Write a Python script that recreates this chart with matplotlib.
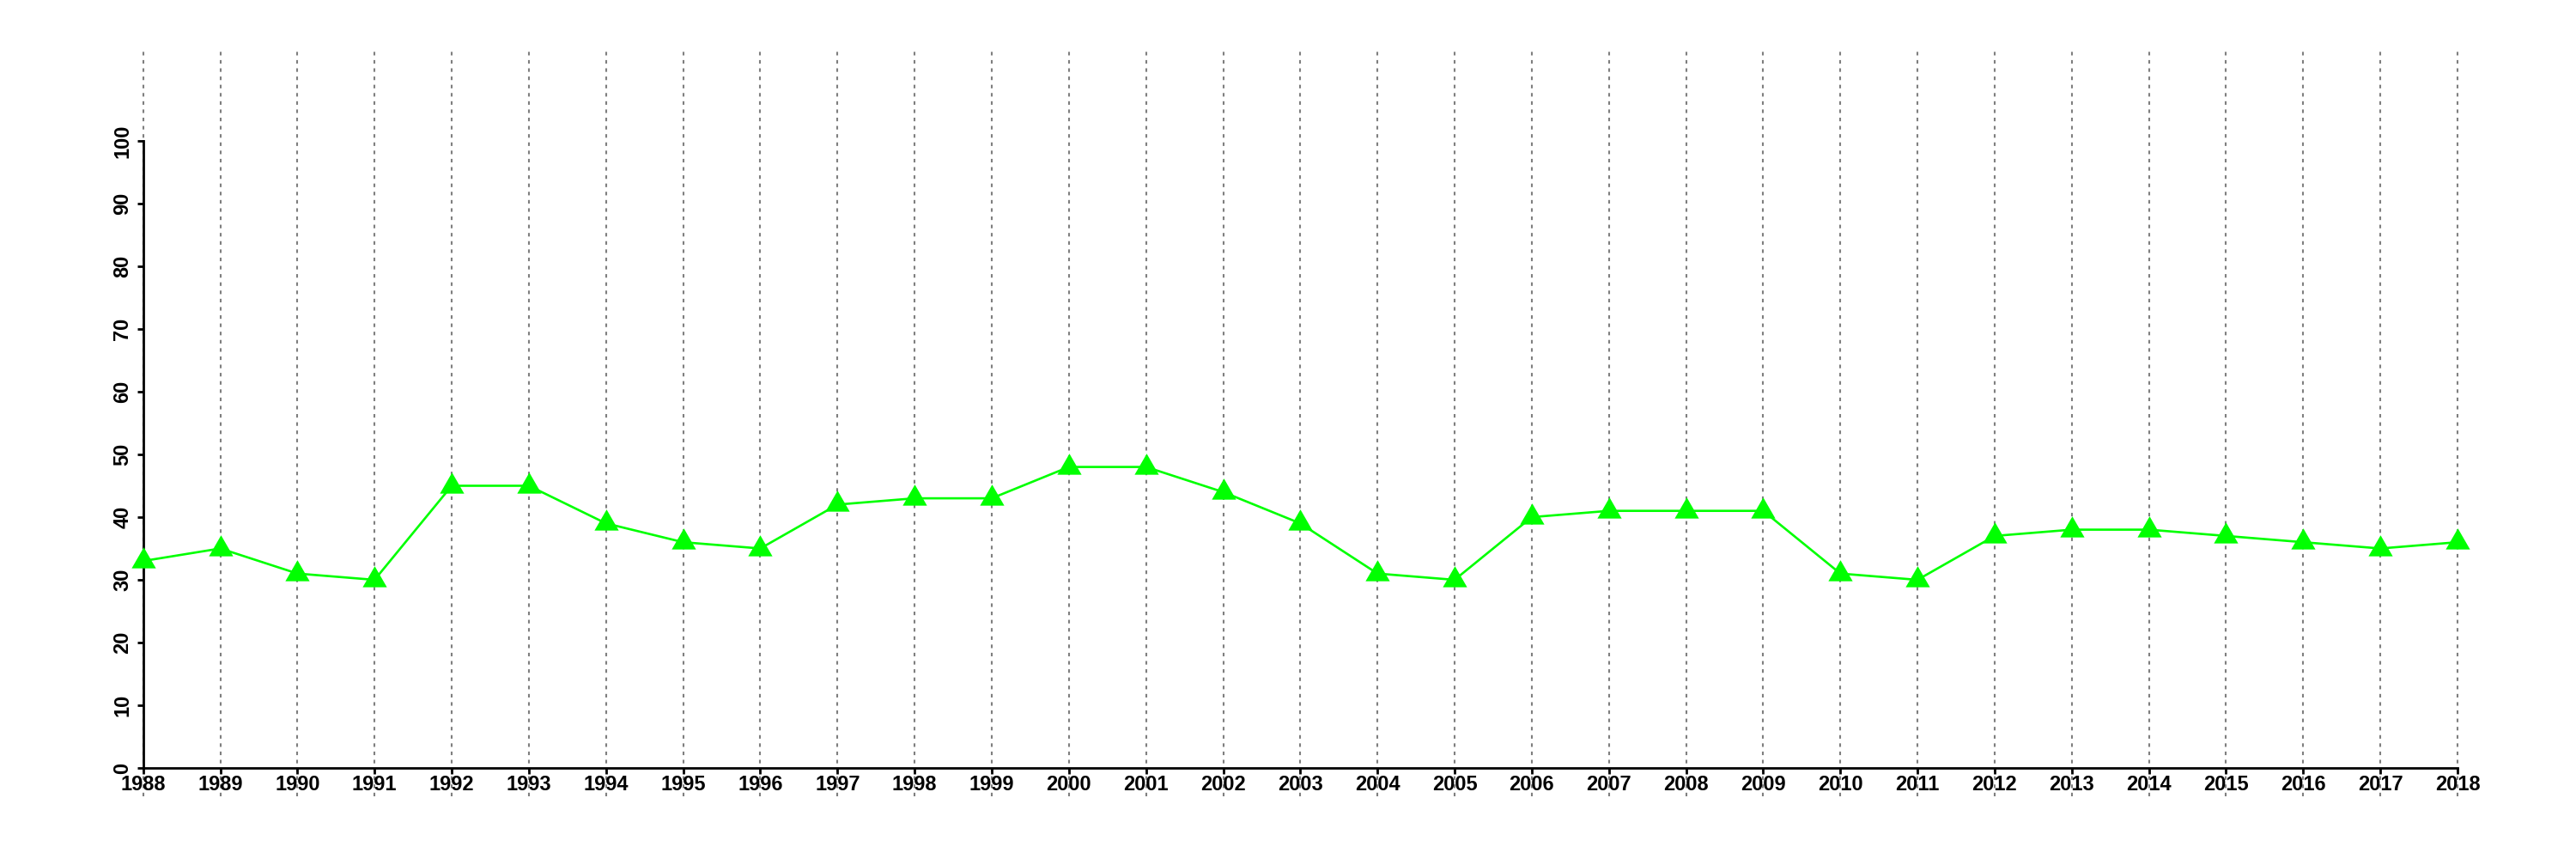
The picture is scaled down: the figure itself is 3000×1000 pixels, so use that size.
import matplotlib
matplotlib.use("Agg")
import matplotlib.pyplot as plt

years = list(range(1988, 2019))
values = [33, 35, 31, 30, 45, 45, 39, 36, 35, 42, 43, 43, 48, 48, 44, 39,
          31, 30, 40, 41, 41, 41, 31, 30, 37, 38, 38, 37, 36, 35, 36]
yticks = list(range(0, 101, 10))

plt.rcParams['font.family'] = ['Liberation Sans', 'DejaVu Sans']

fig = plt.figure(figsize=(30, 10), dpi=100)
ax = fig.add_axes([166.7 / 3000, 1 - 894 / 1000, (2862 - 166.7) / 3000, (894 - 164) / 1000])
ax.set_xlim(years[0], years[-1])
ax.set_ylim(0, 100)

# vertical dotted guide lines, extending beyond the plot region
for yr in years:
    ax.plot([yr, yr], [-4.5, 114.2], color='#7f7f7f', lw=1.5,
            linestyle=(0, (2, 2.6)), clip_on=False, zorder=1)

tri = [(0, 1), (-0.866, -0.5), (0.866, -0.5)]
ax.plot(years, values, color='#00ff00', lw=1.9, marker=tri, markersize=23.5,
        markeredgewidth=0, clip_on=False, zorder=3)

for s in ['top', 'right']:
    ax.spines[s].set_visible(False)
for s in ['left', 'bottom']:
    ax.spines[s].set_linewidth(2)
    ax.spines[s].set_color('black')

ax.set_xticks(years)
ax.set_xticklabels([str(y) for y in years], fontsize=17, fontweight='bold')
ax.set_yticks(yticks)
ax.set_yticklabels([str(v) for v in yticks], fontsize=17, fontweight='bold',
                   rotation=90, va='center')
ax.tick_params(axis='both', direction='out', length=5, width=2, color='black')
ax.tick_params(axis='x', pad=1)
ax.tick_params(axis='y', pad=4)

fig.savefig('out.png', dpi=100, facecolor='white')
